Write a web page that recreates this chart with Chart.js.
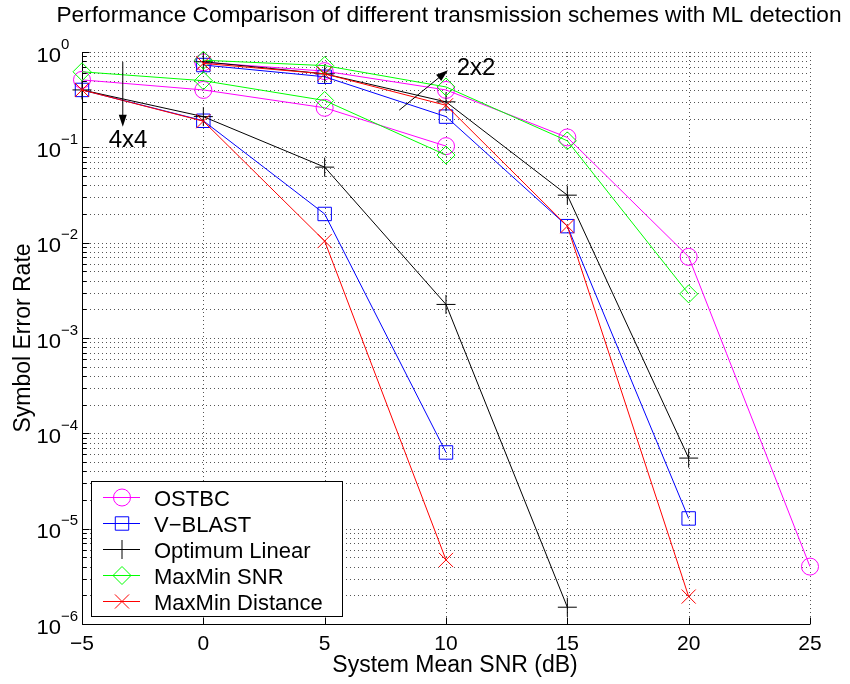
<!DOCTYPE html>
<html>
<head>
<meta charset="utf-8">
<script src="https://cdn.jsdelivr.net/npm/chart.js@4.4.0/dist/chart.umd.min.js"></script>
<style>
  html, body { margin: 0; padding: 0; background: #fff; }
  #graficoSer { display: block; }
</style>
</head>
<body>
<canvas id="graficoSer" width="850" height="684"></canvas>
<script>
// SNR points (dB) of each antenna configuration
const snr4x4 = [-5, 0, 5, 10, 15];
const snr2x2 = [0, 5, 10, 15, 20, 25];

// symbol error rate per scheme (4x4 curves start at -5 dB, 2x2 at 0 dB)
const ostbc4x4   = [0.51, 0.40, 0.26, 0.103];
const ostbc2x2   = [0.78, 0.63, 0.40, 0.127, 0.0071, 4.0e-6];
const vblast4x4  = [0.40, 0.19, 0.020, 6.3e-5];
const vblast2x2  = [0.73, 0.55, 0.21, 0.0149, 1.28e-5];
const optLin4x4  = [0.40, 0.21, 0.062, 0.00225, 1.5e-6];
const optLin2x2  = [0.79, 0.59, 0.30, 0.0315, 5.5e-5];
const maxSnr4x4  = [0.62, 0.50, 0.31, 0.083];
const maxSnr2x2  = [0.82, 0.72, 0.43, 0.117, 0.0029];
const maxDist4x4 = [0.40, 0.188, 0.0104, 4.7e-6];
const maxDist2x2 = [0.76, 0.59, 0.276, 0.0149, 1.94e-6];

// tick labels
const xTicks = [-5, 0, 5, 10, 15, 20, 25];
const yDecades = [-6, -5, -4, -3, -2, -1, 0];

const schemeNames = ['OSTBC', 'V\u2212BLAST', 'Optimum Linear', 'MaxMin SNR', 'MaxMin Distance'];

// style of every scheme
const estilos = [
    { color: '#ff00ff', marker: 'circle',   radius: 8.5 },
    { color: '#0000ff', marker: 'rect',     radius: 9.5 },
    { color: '#000000', marker: 'cross',    radius: 9.5 },
    { color: '#00ff00', marker: 'rectRot',  radius: 9 },
    { color: '#ff0000', marker: 'crossRot', radius: 10 }
];

const curvas = [
    [ostbc4x4, ostbc2x2],
    [vblast4x4, vblast2x2],
    [optLin4x4, optLin2x2],
    [maxSnr4x4, maxSnr2x2],
    [maxDist4x4, maxDist2x2]
];

const FONTE = '"Liberation Sans", Arial, Helvetica, sans-serif';

function pontos(xs, ys) {
    return ys.map((y, i) => ({ x: xs[i], y: y }));
}

// build datasets: later schemes are drawn over the earlier ones
const datasets = [];
let ordem = 20;
curvas.forEach((par, k) => {
    const st = estilos[k];
    [[snr4x4, par[0]], [snr2x2, par[1]]].forEach(([xs, ys]) => {
        datasets.push({
            label: schemeNames[k],
            data: pontos(xs, ys),
            borderColor: st.color,
            backgroundColor: 'transparent',
            borderWidth: 1,
            pointStyle: st.marker,
            pointRadius: st.radius,
            pointBorderColor: st.color,
            pointBackgroundColor: 'transparent',
            pointBorderWidth: 1,
            tension: 0,
            clip: false,
            order: ordem--
        });
    });
});

// text with an optional horizontal stretch
function texto(ctx, str, x, y, font, align, sx) {
    ctx.save();
    ctx.font = font;
    ctx.textAlign = 'left';
    ctx.textBaseline = 'alphabetic';
    const w = ctx.measureText(str).width * sx;
    let x0 = x;
    if (align === 'center') x0 = x - w / 2;
    else if (align === 'right') x0 = x - w;
    ctx.translate(x0, y);
    ctx.scale(sx, 1);
    ctx.fillText(str, 0, 0);
    ctx.restore();
    return w;
}

function seta(ctx, x1, y1, x2, y2) {
    const ang = Math.atan2(y2 - y1, x2 - x1);
    const len = 12, half = 4;
    ctx.save();
    ctx.strokeStyle = '#000';
    ctx.fillStyle = '#000';
    ctx.lineWidth = 1;
    ctx.beginPath();
    ctx.moveTo(x1, y1);
    ctx.lineTo(x2 - Math.cos(ang) * len * 0.8, y2 - Math.sin(ang) * len * 0.8);
    ctx.stroke();
    ctx.beginPath();
    ctx.moveTo(x2, y2);
    ctx.lineTo(x2 - Math.cos(ang) * len - Math.sin(ang) * half, y2 - Math.sin(ang) * len + Math.cos(ang) * half);
    ctx.lineTo(x2 - Math.cos(ang) * len + Math.sin(ang) * half, y2 - Math.sin(ang) * len - Math.cos(ang) * half);
    ctx.closePath();
    ctx.fill();
    ctx.restore();
}

// dotted grid + left/bottom axes with ticks
const gradeEixos = {
    id: 'gradeEixos',
    beforeDatasetsDraw(chart) {
        const { ctx, chartArea: { left, right, top, bottom }, scales: { x, y } } = chart;
        ctx.save();
        ctx.lineWidth = 1;
        ctx.strokeStyle = '#555';
        ctx.setLineDash([1, 3]);
        ctx.beginPath();
        y.ticks.forEach(t => {
            const py = Math.round(y.getPixelForValue(t.value)) + 0.5;
            ctx.moveTo(left, py);
            ctx.lineTo(right, py);
        });
        x.ticks.forEach(t => {
            const px = Math.round(x.getPixelForValue(t.value)) + 0.5;
            ctx.moveTo(px, top);
            ctx.lineTo(px, bottom);
        });
        ctx.stroke();
        ctx.setLineDash([]);

        // axis lines
        const ax = Math.round(left) + 0.5;
        const ay = Math.round(bottom) + 0.5;
        ctx.strokeStyle = '#000';
        ctx.beginPath();
        ctx.moveTo(ax, top);
        ctx.lineTo(ax, ay);
        ctx.lineTo(right, ay);
        y.ticks.forEach(t => {
            const py = Math.round(y.getPixelForValue(t.value)) + 0.5;
            const major = Math.abs(Math.log10(t.value) - Math.round(Math.log10(t.value))) < 1e-9;
            ctx.moveTo(ax, py);
            ctx.lineTo(ax + (major ? 7 : 4), py);
        });
        x.ticks.forEach(t => {
            const px = Math.round(x.getPixelForValue(t.value)) + 0.5;
            ctx.moveTo(px, ay);
            ctx.lineTo(px, ay - 7);
        });
        ctx.stroke();
        ctx.restore();
    }
};

// tick labels, titles, legend and the 4x4 / 2x2 notes
const textos = {
    id: 'textos',
    afterDraw(chart) {
        const { ctx, chartArea: { left, right, top, bottom }, scales: { x, y } } = chart;
        ctx.save();
        ctx.fillStyle = '#000';

        yDecades.forEach(d => {
            const py = y.getPixelForValue(Math.pow(10, d));
            texto(ctx, '10', left - 21, py + 9.5, '21px ' + FONTE, 'right', 1.05);
            texto(ctx, d === 0 ? '0' : '\u2212' + (-d), left - 21, py - 3.5, '15px ' + FONTE, 'left', 1.0);
        });
        xTicks.forEach(v => {
            const px = x.getPixelForValue(v);
            const lab = v < 0 ? '\u2212' + (-v) : String(v);
            texto(ctx, lab, px, bottom + 26, '21px ' + FONTE, 'center', 1.0);
        });

        const cx = (left + right) / 2;
        texto(ctx, 'System Mean SNR (dB)', cx + 9, bottom + 48, '23px ' + FONTE, 'center', 1.0);

        ctx.save();
        ctx.translate(30, (top + bottom) / 2);
        ctx.rotate(-Math.PI / 2);
        texto(ctx, 'Symbol Error Rate', 0, 0, '23px ' + FONTE, 'center', 1.0);
        ctx.restore();

        texto(ctx, 'Performance Comparison of different transmission schemes with ML detection',
            cx + 3, 22, '22.7px ' + FONTE, 'center', 1.0);

        // annotations
        seta(ctx, x.getPixelForValue(-3.32), y.getPixelForValue(0.785),
                  x.getPixelForValue(-3.32), y.getPixelForValue(0.164));
        texto(ctx, '4x4', x.getPixelForValue(-3.9), y.getPixelForValue(0.101), '24px ' + FONTE, 'left', 1.0);
        seta(ctx, x.getPixelForValue(8.07), y.getPixelForValue(0.245),
                  x.getPixelForValue(10.08), y.getPixelForValue(0.643));
        texto(ctx, '2x2', x.getPixelForValue(10.44), y.getPixelForValue(0.57), '24px ' + FONTE, 'left', 1.0);

        // legend box
        const lx = left + 9, lw = 251, lh = 135;
        const ly = bottom - 8 - lh;
        ctx.fillStyle = '#fff';
        ctx.fillRect(lx, ly, lw, lh);
        ctx.strokeStyle = '#000';
        ctx.lineWidth = 1;
        ctx.strokeRect(Math.round(lx) + 0.5, Math.round(ly) + 0.5, lw, lh);

        schemeNames.forEach((nome, k) => {
            const st = estilos[k];
            const ry = Math.round(ly + 16 + k * 26) + 0.5;
            ctx.strokeStyle = st.color;
            ctx.fillStyle = 'rgba(0,0,0,0)';
            ctx.beginPath();
            ctx.moveTo(lx + 12, ry);
            ctx.lineTo(lx + 49, ry);
            ctx.stroke();
            Chart.helpers.drawPoint(ctx, {
                pointStyle: st.marker, radius: st.radius, rotation: 0, borderWidth: 1
            }, lx + 31, ry);
            ctx.fillStyle = '#000';
            texto(ctx, nome, lx + 63, ry + 8, '22px ' + FONTE, 'left', 1.0);
        });
        ctx.restore();
    }
};

new Chart(document.getElementById('graficoSer').getContext('2d'), {
    type: 'line',
    data: { datasets: datasets },
    options: {
        responsive: false,
        animation: false,
        devicePixelRatio: 1,
        events: [],
        layout: { padding: { left: 82, right: 40, top: 52, bottom: 60 } },
        plugins: {
            legend: { display: false },
            tooltip: { enabled: false },
            title: { display: false }
        },
        scales: {
            x: {
                type: 'linear',
                min: -5,
                max: 25,
                ticks: { display: false, stepSize: 5 },
                grid: { display: false, drawTicks: false },
                border: { display: false },
                afterBuildTicks(scale) {
                    scale.ticks = xTicks.map(v => ({ value: v }));
                }
            },
            y: {
                type: 'logarithmic',
                min: 1e-6,
                max: 1,
                ticks: { display: false },
                grid: { display: false, drawTicks: false },
                border: { display: false },
                afterBuildTicks(scale) {
                    const tk = [];
                    yDecades.forEach(d => {
                        const lim = d === 0 ? 1 : 9;
                        for (let m = 1; m <= lim; m++) tk.push({ value: m * Math.pow(10, d) });
                    });
                    scale.ticks = tk;
                }
            }
        }
    },
    plugins: [gradeEixos, textos]
});
</script>
</body>
</html>
